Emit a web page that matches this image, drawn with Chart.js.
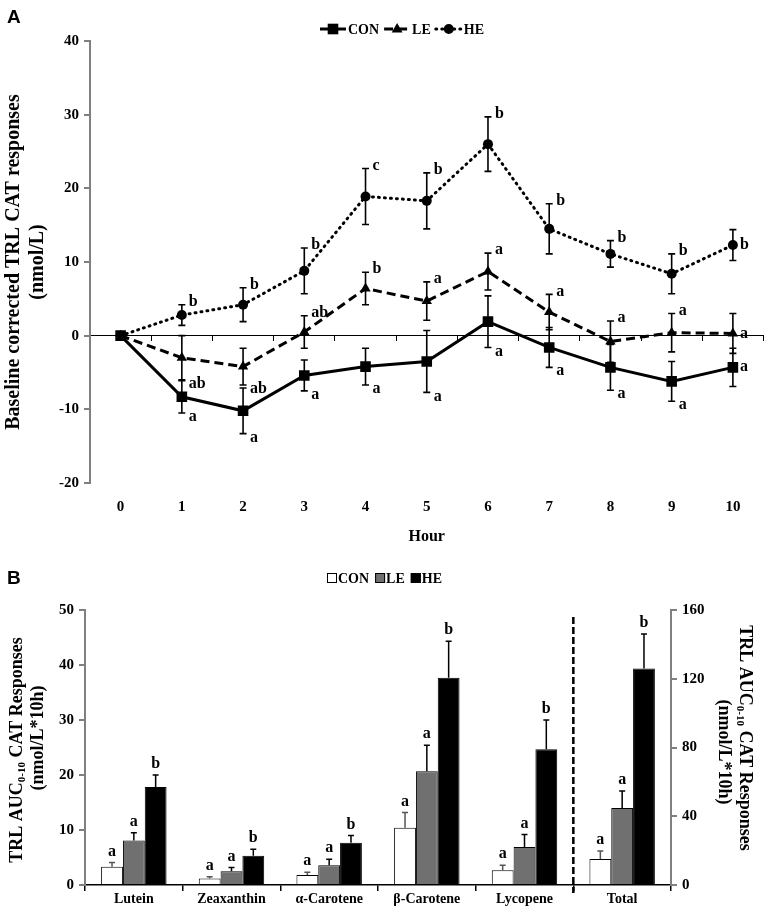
<!DOCTYPE html>
<html>
<head>
<meta charset="utf-8">
<script src="https://cdn.jsdelivr.net/npm/chart.js@4.4.1/dist/chart.umd.min.js"></script>
<style>
  body { margin: 0; background: #fff; width: 771px; height: 915px; position: relative; overflow: hidden; }
  canvas { position: absolute; left: 0; }
  .tag { position: absolute; left: 7px; font-family: 'Liberation Sans', Arial, sans-serif; font-weight: bold; font-size: 19px; color: #000; }
</style>
</head>
<body>
<canvas id="chartA" width="771" height="550" style="top:0"></canvas>
<canvas id="chartB" width="771" height="355" style="top:560px"></canvas>
<div class="tag" style="top:6px">A</div>
<div class="tag" style="top:567px">B</div>
<script>
// ---- Panel A data ----
const hours = ['0', '1', '2', '3', '4', '5', '6', '7', '8', '9', '10'];
const conMean = [0, -8.3, -10.2, -5.4, -4.2, -3.5, 1.9, -1.6, -4.3, -6.2, -4.3];
const conErr  = [0, 2.2, 3.1, 2.1, 2.5, 4.2, 3.5, 2.7, 3.1, 2.7, 2.6];
const leMean  = [0, -3.0, -4.2, 0.5, 6.4, 4.7, 8.7, 3.2, -0.8, 0.4, 0.3];
const leErr   = [0, 3.0, 2.5, 2.2, 2.2, 2.6, 2.5, 2.4, 2.8, 2.6, 2.7];
const heMean  = [0, 2.8, 4.2, 8.8, 18.9, 18.3, 26.0, 14.5, 11.1, 8.4, 12.3];
const heErr   = [0, 1.4, 2.3, 3.1, 3.8, 3.8, 3.7, 3.4, 1.8, 2.7, 2.1];
const conLetters = ['', 'a', 'a', 'a', 'a', 'a', 'a', 'a', 'a', 'a', 'a'];
const leLetters  = ['', 'ab', 'ab', 'ab', 'b', 'a', 'a', 'a', 'a', 'a', 'a'];
const heLetters  = ['', 'b', 'b', 'b', 'c', 'b', 'b', 'b', 'b', 'b', 'b'];
// where each letter sits: ne = right of error-bar top, se = right of error-bar bottom, e = right of point
const conSpots = ['', 'se', 'se', 'se', 'se', 'se', 'se', 'se', 'se', 'se', 'e'];
const leSpots  = ['', 'se', 'se', 'ne', 'ne', 'ne', 'ne', 'ne', 'ne', 'ne', 'e'];
const heSpots  = ['', 'ne', 'ne', 'ne', 'ne', 'ne', 'ne', 'ne', 'ne', 'ne', 'e'];

// ---- Panel B data ----
const pigments = ['Lutein', 'Zeaxanthin', 'α-Carotene', 'β-Carotene', 'Lycopene', 'Total'];
const conAuc = [3.3, 1.2, 1.8, 10.4, 2.7];
const conAucErr = [0.8, 0.3, 0.5, 2.8, 0.9];
const leAuc = [8.1, 2.5, 3.6, 20.7, 6.9];
const leAucErr = [1.4, 0.7, 1.1, 4.7, 2.3];
const heAuc = [17.8, 5.3, 7.7, 37.7, 24.7];
const heAucErr = [2.2, 1.2, 1.3, 6.6, 5.3];
const totalAuc = [15.1, 44.8, 126.0];     // CON, LE, HE on right axis
const totalAucErr = [4.7, 9.9, 20.0];
const conAucLetters = ['a', 'a', 'a', 'a', 'a', 'a'];
const leAucLetters  = ['a', 'a', 'a', 'a', 'a', 'a'];
const heAucLetters  = ['b', 'b', 'b', 'b', 'b', 'b'];

const SERIF = "'Liberation Serif', 'Times New Roman', serif";
const bold = (size) => ({ family: SERIF, size: size, weight: 'bold' });

function drawMarker(ctx, style, x, y, r) {
    ctx.beginPath();
    if (style === 'rect') {
        const s = r * Math.SQRT1_2;
        ctx.rect(x - s, y - s, 2 * s, 2 * s);
    } else if (style === 'triangle') {
        ctx.moveTo(x, y - r);
        ctx.lineTo(x + r * 0.9, y + r * 0.6);
        ctx.lineTo(x - r * 0.9, y + r * 0.6);
        ctx.closePath();
    } else {
        ctx.arc(x, y, r, 0, Math.PI * 2);
    }
    ctx.fill();
}

// error bars, significance letters and legend for panel A
const annotA = {
    id: 'annotA',
    afterDatasetsDraw(chart) {
        const ctx = chart.ctx;
        const yScale = chart.scales.y;
        chart.data.datasets.forEach((ds, i) => {
            const meta = chart.getDatasetMeta(i);
            meta.data.forEach((pt, j) => {
                const v = ds.data[j], e = ds.err[j];
                const top = yScale.getPixelForValue(v + e);
                const bot = yScale.getPixelForValue(v - e);
                ctx.save();
                ctx.strokeStyle = '#000';
                ctx.lineWidth = 1.6;
                if (e > 0) {
                    ctx.beginPath();
                    ctx.moveTo(pt.x, top); ctx.lineTo(pt.x, bot);
                    ctx.moveTo(pt.x - 3.5, top); ctx.lineTo(pt.x + 3.5, top);
                    ctx.moveTo(pt.x - 3.5, bot); ctx.lineTo(pt.x + 3.5, bot);
                    ctx.stroke();
                }
                const txt = ds.letters[j];
                if (txt) {
                    ctx.fillStyle = '#000';
                    ctx.font = 'bold 16px ' + SERIF;
                    ctx.textAlign = 'left';
                    ctx.textBaseline = 'middle';
                    const spot = ds.spots[j];
                    let ty = pt.y;
                    if (spot === 'ne') ty = top - 3;
                    if (spot === 'se') ty = bot + 4;
                    ctx.fillText(txt, pt.x + 7, ty);
                }
                ctx.restore();
            });
        });
    },
    afterDraw(chart) {
        const ctx = chart.ctx;
        ctx.save();
        ctx.font = 'bold 14px ' + SERIF;
        const items = chart.data.datasets.map(ds => ({ ds: ds, w: 28 + ctx.measureText(ds.label).width }));
        const gap = 5;
        const total = items.reduce((s, it) => s + it.w, 0) + gap * (items.length - 1);
        let x = 402 - total / 2;
        const y = 29;
        items.forEach(it => {
            const ds = it.ds;
            ctx.strokeStyle = '#000';
            ctx.fillStyle = '#000';
            ctx.lineWidth = 3;
            ctx.lineCap = ds.borderCapStyle || 'butt';
            ctx.setLineDash(ds.borderDash || []);
            ctx.beginPath();
            ctx.moveTo(x, y); ctx.lineTo(x + 26, y);
            ctx.stroke();
            ctx.setLineDash([]);
            drawMarker(ctx, ds.pointStyle, x + 13, y, ds.pointRadius);
            ctx.textAlign = 'left';
            ctx.textBaseline = 'middle';
            ctx.fillText(ds.label, x + 28, y + 1);
            x += it.w + gap;
        });
        ctx.restore();
    }
};

const chartA = new Chart(document.getElementById('chartA'), {
    type: 'line',
    data: {
        labels: hours,
        datasets: [{
            label: 'CON', data: conMean, err: conErr, letters: conLetters, spots: conSpots,
            borderColor: '#000', backgroundColor: '#000', borderWidth: 3,
            pointStyle: 'rect', pointRadius: 7.5, pointBorderWidth: 0
        }, {
            label: 'LE', data: leMean, err: leErr, letters: leLetters, spots: leSpots,
            borderColor: '#000', backgroundColor: '#000', borderWidth: 3, borderDash: [9, 5],
            pointStyle: 'triangle', pointRadius: 6, pointBorderWidth: 0
        }, {
            label: 'HE', data: heMean, err: heErr, letters: heLetters, spots: heSpots,
            borderColor: '#000', backgroundColor: '#000', borderWidth: 3, borderDash: [1, 5], borderCapStyle: 'round',
            pointStyle: 'circle', pointRadius: 5, pointBorderWidth: 0
        }]
    },
    options: {
        responsive: false,
        animation: false,
        layout: { padding: { top: 41, right: 3, left: 0, bottom: 0 } },
        plugins: { legend: { display: false }, tooltip: { enabled: false } },
        scales: {
            x: {
                type: 'category', offset: true, position: 'bottom',
                border: { display: false }, grid: { display: false },
                ticks: { font: bold(15), color: '#000', padding: 7 },
                title: { display: true, text: 'Hour', font: bold(16), color: '#000', padding: { top: 2 } },
                afterFit: (a) => { a.height = 67; }
            },
            xZero: {
                axis: 'x', type: 'category', offset: true, position: { y: 0 },
                grid: { offset: true, drawOnChartArea: false, drawTicks: true, tickLength: 5, color: '#000', lineWidth: 1 },
                border: { color: '#000', width: 1 },
                ticks: { display: false }
            },
            y: {
                min: -20, max: 40,
                ticks: { stepSize: 10, font: bold(15), color: '#000', padding: 5 },
                grid: { drawOnChartArea: false, tickLength: 6, color: '#808080', lineWidth: 2 },
                border: { color: '#808080', width: 2 },
                title: { display: true, text: ['Baseline corrected TRL CAT responses', '(nmol/L)'], font: bold(20), color: '#000', padding: { top: 2 } },
                afterFit: (a) => { a.width = 90; }
            }
        }
    },
    plugins: [annotA]
});

// ---- Panel B ----
function drawRich(ctx, parts, cx, cy, angle) {
    ctx.save();
    ctx.translate(cx, cy);
    ctx.rotate(angle);
    ctx.fillStyle = '#000';
    ctx.textAlign = 'left';
    ctx.textBaseline = 'middle';
    let total = 0;
    parts.forEach(p => {
        ctx.font = 'bold ' + (p.sub ? 11 : 18) + 'px ' + SERIF;
        p.w = ctx.measureText(p.t).width;
        total += p.w;
    });
    let x = -total / 2;
    parts.forEach(p => {
        ctx.font = 'bold ' + (p.sub ? 11 : 18) + 'px ' + SERIF;
        ctx.fillText(p.t, x, p.sub ? 5 : 0);
        x += p.w;
    });
    ctx.restore();
}

const annotB = {
    id: 'annotB',
    afterDatasetsDraw(chart) {
        const ctx = chart.ctx;
        chart.data.datasets.forEach((ds, i) => {
            const meta = chart.getDatasetMeta(i);
            const scale = chart.scales[ds.yAxisID];
            meta.data.forEach((bar, j) => {
                const v = ds.data[j];
                if (v === null || v === undefined) return;
                const top = scale.getPixelForValue(v + ds.err[j]);
                ctx.save();
                ctx.strokeStyle = ds.errColor;
                ctx.lineWidth = 1.5;
                ctx.beginPath();
                ctx.moveTo(bar.x, bar.y); ctx.lineTo(bar.x, top);
                ctx.moveTo(bar.x - 3, top); ctx.lineTo(bar.x + 3, top);
                ctx.stroke();
                ctx.fillStyle = '#000';
                ctx.font = 'bold 16px ' + SERIF;
                ctx.textAlign = 'center';
                ctx.textBaseline = 'bottom';
                ctx.fillText(ds.letters[j], bar.x, top - 3);
                ctx.restore();
            });
        });
    },
    afterDraw(chart) {
        const ctx = chart.ctx;
        const area = chart.chartArea;
        const xs = chart.scales.x;
        // dashed divider before "Total"
        const xd = (xs.getPixelForValue(4) + xs.getPixelForValue(5)) / 2;
        ctx.save();
        ctx.strokeStyle = '#000';
        ctx.lineWidth = 2.5;
        ctx.setLineDash([7, 3]);
        ctx.beginPath();
        ctx.moveTo(xd, area.top + 7); ctx.lineTo(xd, area.bottom + 8);
        ctx.stroke();
        ctx.restore();

        // axis titles with subscript
        const line1 = [{ t: 'TRL AUC' }, { t: '0-10', sub: true }, { t: ' CAT Responses' }];
        const line2 = [{ t: '(nmol/L*10h)' }];
        drawRich(ctx, line1, 17, 190, -Math.PI / 2);
        drawRich(ctx, line2, 38, 178, -Math.PI / 2);
        drawRich(ctx, line1, 745, 178, Math.PI / 2);
        drawRich(ctx, line2, 724, 192, Math.PI / 2);

        // legend
        ctx.save();
        ctx.font = 'bold 14px ' + SERIF;
        const items = chart.data.datasets.slice(0, 3);
        const widths = items.map(ds => 12 + ctx.measureText(ds.label).width);
        const gap = 5;
        const total = widths.reduce((s, w) => s + w, 0) + gap * 2;
        let x = 385 - total / 2;
        const y = 18;
        items.forEach((ds, k) => {
            ctx.fillStyle = ds.backgroundColor;
            ctx.fillRect(x, y - 5, 10, 10);
            ctx.strokeStyle = '#000';
            ctx.lineWidth = 1;
            ctx.strokeRect(x + 0.5, y - 4.5, 9, 9);
            ctx.fillStyle = '#000';
            ctx.textAlign = 'left';
            ctx.textBaseline = 'middle';
            ctx.fillText(ds.label, x + 11, y + 1);
            x += widths[k] + gap;
        });
        ctx.restore();
    }
};

const pad = (arr) => arr.concat([null]);
const onlyTotal = (v) => [null, null, null, null, null, v];

const chartB = new Chart(document.getElementById('chartB'), {
    type: 'bar',
    data: {
        labels: pigments,
        datasets: [
            { label: 'CON', data: pad(conAuc), err: pad(conAucErr), letters: conAucLetters, yAxisID: 'y', backgroundColor: '#ffffff', borderColor: '#000', borderWidth: 1, errColor: '#555' },
            { label: 'LE', data: pad(leAuc), err: pad(leAucErr), letters: leAucLetters, yAxisID: 'y', backgroundColor: '#707070', borderColor: '#000', borderWidth: 1, errColor: '#000' },
            { label: 'HE', data: pad(heAuc), err: pad(heAucErr), letters: heAucLetters, yAxisID: 'y', backgroundColor: '#000000', borderColor: '#000', borderWidth: 1, errColor: '#000' },
            { label: 'CON', data: onlyTotal(totalAuc[0]), err: onlyTotal(totalAucErr[0]), letters: conAucLetters, yAxisID: 'y1', backgroundColor: '#ffffff', borderColor: '#000', borderWidth: 1, errColor: '#555' },
            { label: 'LE', data: onlyTotal(totalAuc[1]), err: onlyTotal(totalAucErr[1]), letters: leAucLetters, yAxisID: 'y1', backgroundColor: '#707070', borderColor: '#000', borderWidth: 1, errColor: '#000' },
            { label: 'HE', data: onlyTotal(totalAuc[2]), err: onlyTotal(totalAucErr[2]), letters: heAucLetters, yAxisID: 'y1', backgroundColor: '#000000', borderColor: '#000', borderWidth: 1, errColor: '#000' }
        ]
    },
    options: {
        responsive: false,
        animation: false,
        skipNull: true,
        categoryPercentage: 0.67,
        barPercentage: 1.0,
        layout: { padding: { top: 50, left: 0, right: 0, bottom: 0 } },
        plugins: { legend: { display: false }, tooltip: { enabled: false } },
        scales: {
            x: {
                border: { color: '#000', width: 1.5 },
                grid: { offset: true, drawOnChartArea: false, tickLength: 6, color: '#000', lineWidth: 1.5 },
                ticks: { font: bold(14), color: '#000', padding: 0 },
                afterFit: (a) => { a.height = 30; }
            },
            y: {
                position: 'left', min: 0, max: 50,
                ticks: { stepSize: 10, font: bold(15), color: '#000', padding: 5 },
                grid: { drawOnChartArea: false, tickLength: 6, color: '#808080', lineWidth: 2 },
                border: { color: '#808080', width: 2 },
                afterFit: (a) => { a.width = 85; }
            },
            y1: {
                position: 'right', min: 0, max: 160,
                ticks: { stepSize: 40, font: bold(15), color: '#000', padding: 5 },
                grid: { drawOnChartArea: false, tickLength: 6, color: '#808080', lineWidth: 2 },
                border: { color: '#808080', width: 2 },
                afterFit: (a) => { a.width = 100; }
            }
        }
    },
    plugins: [annotB]
});
</script>
</body>
</html>
